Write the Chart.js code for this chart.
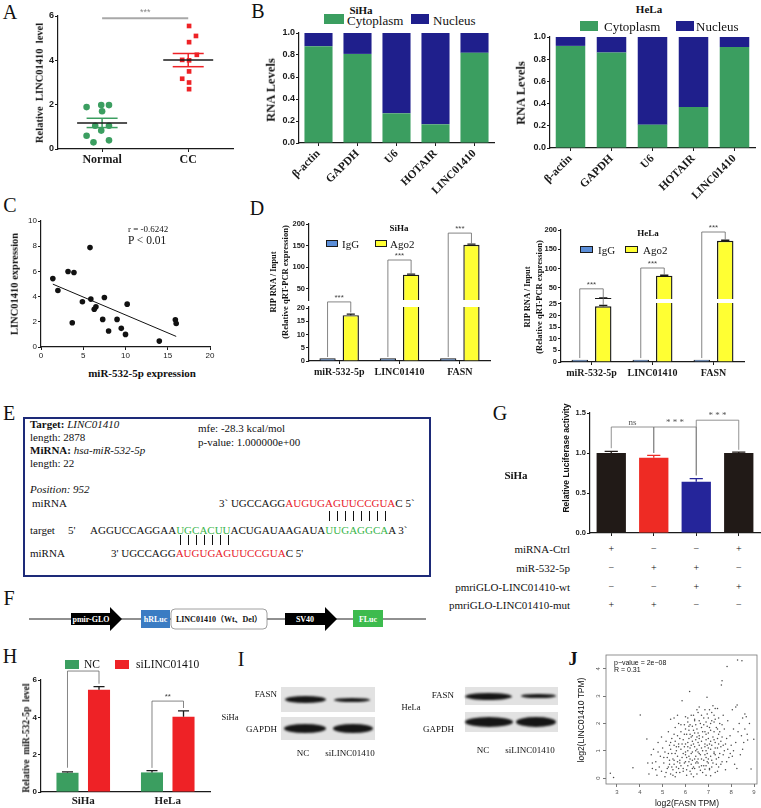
<!DOCTYPE html>
<html>
<head>
<meta charset="utf-8">
<script src="https://cdn.jsdelivr.net/npm/chart.js@4.4.1/dist/chart.umd.min.js"></script>
<style>
  html, body { margin: 0; padding: 0; }
  body { width: 761px; height: 808px; position: relative; overflow: hidden; background: #fff;
         font-family: "Liberation Serif", "Times New Roman", serif; color: #111; }
  .t { position: absolute; white-space: nowrap; line-height: 1; }
  canvas { position: absolute; }
  #ebox { position: absolute; left: 23px; top: 417px; width: 404px; height: 156px; border: 2px solid #1d2a78; }
  .blot { position: absolute; background: #e2e2e2; }
  .band { position: absolute; background: #161616; border-radius: 50%; filter: blur(1.2px); }
  .red { color: #e8202a; } .grn { color: #39b54a; }
</style>
</head>
<body>
<div id="ebox"></div>
<svg width="761" height="40" style="position:absolute;left:0;top:600px" font-family="Liberation Serif, serif" font-weight="bold" font-size="8">
  <line x1="29" y1="19" x2="426" y2="19" stroke="#222" stroke-width="1.2"/>
  <polygon points="71,13 110,13 110,7 122,19 110,31 110,25 71,25" fill="#000"/>
  <text x="91" y="22" fill="#fff" text-anchor="middle">pmir-GLO</text>
  <rect x="141" y="10" width="29" height="18" fill="#3b7cc3"/>
  <text x="155.5" y="22" fill="#fff" text-anchor="middle">hRLuc</text>
  <rect x="171" y="9" width="96" height="20" rx="4" fill="#fff" stroke="#888" stroke-width="0.8"/>
  <text x="219" y="22" fill="#111" text-anchor="middle" font-family="Liberation Serif, Noto Sans CJK SC, serif">LINC01410（Wt、Del）</text>
  <polygon points="285,13 325,13 325,7 337,19 325,31 325,25 285,25" fill="#000"/>
  <text x="305" y="22" fill="#fff" text-anchor="middle">SV40</text>
  <rect x="353" y="10" width="30" height="17" fill="#3dbb4e"/>
  <text x="368" y="21.5" fill="#fff" text-anchor="middle">FLuc</text>
</svg>
<script>
// ============================================================
// Multi-panel figure — Chart.js
// ============================================================

// ── data: A ──
const aGroups  = ['Normal', 'CC'];
const aNormalX = [0.82, 0.99, 1.08, 1.00, 0.92, 1.08, 0.82, 0.99, 0.90, 1.08];
const aNormalY = [1.89, 1.98, 1.98, 1.70, 1.05, 1.05, 0.60, 0.83, 0.30, 0.39];
const aCcX     = [2.01, 2.09, 2.01, 1.93, 2.10, 2.01, 2.01, 1.93, 2.01, 2.01];
const aCcY     = [5.55, 5.10, 4.82, 4.02, 4.25, 4.00, 3.50, 3.17, 3.00, 2.70];
const aTicksY  = [0, 2, 4, 6];

// ── data: B ──
const bGenes    = ['β-actin', 'GAPDH', 'U6', 'HOTAIR', 'LINC01410'];
const bSihaCyto = [0.88, 0.81, 0.27, 0.17, 0.82];
const bSihaNuc  = [0.12, 0.19, 0.73, 0.83, 0.18];
const bHelaCyto = [0.92, 0.86, 0.21, 0.37, 0.91];
const bHelaNuc  = [0.08, 0.14, 0.79, 0.63, 0.09];
const bTicksY   = [0, 0.2, 0.4, 0.6, 0.8, 1.0];

// ── data: C ──
const cMirX   = [1.4, 2.0, 3.2, 3.9, 5.8, 4.9, 3.7, 5.9, 6.3, 6.5, 7.5, 7.3, 8.0, 9.0, 9.5, 10.0, 10.2, 14.0, 15.9, 16.0];
const cLincY  = [5.43, 4.49, 5.99, 5.91, 7.89, 3.59, 1.93, 3.80, 3.00, 3.19, 3.93, 2.19, 1.27, 2.19, 1.48, 1.00, 3.40, 0.47, 2.16, 1.87];
const cFitX   = [1.4, 16.0];
const cFitY   = [4.99, 0.84];
const cTicksX = [0, 5, 10, 15, 20];
const cTicksY = [0, 2, 4, 6, 8, 10];

// ── data: D ──
const dCats        = ['miR-532-5p', 'LINC01410', 'FASN'];
const dSihaIgG     = [1.0, 1.0, 1.0];
const dSihaAgo2    = [17.3, 83, 152];
const dSihaAgo2Err = [0.4, 1.5, 1.5];
const dHelaIgG     = [1.0, 1.0, 1.0];
const dHelaAgo2    = [24, 82, 172];
const dHelaAgo2Err = [0.4, 1.0, 1.5];
const dSihaLowTicks = [0, 5, 10, 15, 20];
const dHelaLowTicks = [0, 5, 10, 15, 20, 25];
const dUpTicks      = [50, 100, 150, 200];

// ── data: G ──
const gValues = [1.00, 0.94, 0.64, 1.00];
const gErrors = [0.02, 0.03, 0.04, 0.01];
const gTicksY = [0, 0.5, 1.0, 1.5];
const gRows   = ['miRNA-Ctrl', 'miR-532-5p', 'pmriGLO-LINC01410-wt', 'pmriGLO-LINC01410-mut'];
const gTable  = [['+', '−', '−', '+'], ['−', '+', '+', '−'], ['−', '−', '+', '+'], ['+', '+', '−', '−']];

// ── data: H ──
const hCells   = ['SiHa', 'HeLa'];
const hNC      = [1.03, 1.05];
const hNCErr   = [0.05, 0.10];
const hSi      = [5.48, 4.03];
const hSiErr   = [0.17, 0.32];
const hTicksY  = [0, 2, 4, 6];

// ── data: J ── (log2 FASN TPM, log2 LINC01410 TPM)
const jPoints = [
  [2.85,0.02],[2.71,0.17],[4.4,0.15],[4.75,0.1],[5.1,0.05],[5.35,0.15],[5.55,0.05],[5.75,0.2],[6.05,0.1],[6.2,0.25],
  [6.5,0.15],[6.65,0.28],[6.9,0.1],[7.05,0.3],[7.3,0.2],[7.75,0.3],[5.9,0.25],[6.35,0.05],[7.1,0.08],[4.95,0.25],
  [3.7,0.38],[4.35,0.55],[4.55,0.35],[4.85,0.4],[5.05,0.55],[5.2,0.35],[5.3,0.5],[5.45,0.3],[5.6,0.4],[5.75,0.55],
  [5.9,0.35],[6.0,0.6],[6.1,0.45],[6.25,0.5],[6.35,0.4],[6.55,0.55],[6.7,0.45],[6.8,0.45],[6.95,0.6],[7.05,0.35],
  [7.2,0.55],[7.45,0.4],[7.6,0.6],[8.15,0.5],[8.87,0.33],[6.4,0.35],[6.85,0.32],[7.35,0.5],[5.5,0.5],
  [4.5,0.85],[4.7,0.6],[4.9,0.8],[5.2,0.75],[5.4,0.9],[5.5,0.65],[5.65,0.8],[5.85,0.75],[6.0,0.85],[6.15,0.8],
  [6.3,0.65],[6.45,0.8],[6.6,0.9],[6.7,0.7],[6.85,0.85],[7.1,0.8],[7.25,0.9],[7.35,0.7],[7.5,0.9],[7.9,0.75],
  [7.96,0.9],[8.4,0.85],[5.75,0.65],[6.2,0.7],[6.55,0.7],[7.0,0.7],[5.3,0.65],[6.9,0.75],
  [4.6,1.05],[5.0,1.1],[5.1,0.95],[5.35,1.05],[5.6,1.0],[5.8,1.05],[5.95,1.15],[6.0,0.95],[6.2,1.1],[6.3,0.95],
  [6.5,1.05],[6.6,1.2],[6.75,1.0],[6.85,1.15],[7.0,1.1],[7.15,1.2],[7.25,0.95],[7.4,1.1],[7.7,1.0],[8.0,1.2],
  [8.1,1.0],[8.5,1.05],[5.5,1.2],[6.4,1.15],[6.9,1.0],[7.55,1.15],[5.7,1.15],[6.1,1.0],
  [4.31,1.43],[4.8,1.3],[5.15,1.35],[5.3,1.2],[5.4,1.45],[5.7,1.25],[5.9,1.4],[6.1,1.3],[6.25,1.5],[6.35,1.25],
  [6.45,1.4],[6.6,1.45],[6.7,1.35],[6.85,1.25],[7.0,1.45],[7.2,1.5],[7.3,1.3],[7.55,1.35],[7.8,1.45],[8.55,1.3],
  [8.72,1.39],[8.99,1.42],[6.0,1.25],[6.55,1.3],[7.1,1.35],[5.55,1.35],
  [4.95,1.5],[5.25,1.7],[5.65,1.55],[5.8,1.7],[6.05,1.6],[6.15,1.75],[6.4,1.65],[6.5,1.8],[6.6,1.55],[6.75,1.7],
  [6.9,1.6],[7.1,1.75],[7.45,1.6],[7.7,1.8],[8.3,1.7],[8.45,1.55],[8.6,1.8],[8.7,1.6],[5.5,1.6],[6.3,1.55],[7.0,1.65],
  [5.55,1.85],[5.7,2.0],[5.95,1.95],[6.1,2.05],[6.3,1.9],[6.4,2.1],[6.65,2.0],[6.95,1.9],[7.15,2.1],[7.35,1.85],
  [7.5,2.0],[7.85,2.1],[8.35,2.0],[8.8,2.0],[6.2,1.95],[6.8,1.95],[7.25,2.05],
  [4.02,2.31],[5.35,2.15],[5.5,2.2],[6.0,2.25],[6.25,2.3],[6.55,2.4],[6.8,2.2],[7.05,2.5],[7.25,2.3],[7.65,2.3],
  [8.5,2.2],[8.66,2.25],[6.4,2.15],[7.0,2.2],[8.6,2.35],
  [5.85,2.83],[6.18,3.17],[6.94,2.96],[7.4,2.55],[8.05,2.5],[8.2,2.6],[8.26,2.68],[7.57,3.41],[7.6,3.57],[7.82,4.09],
  [8.28,4.33],[8.47,4.3],[6.6,2.6],[7.2,2.65],
  [5.6,0.2],[5.8,0.45],[5.95,0.55],[6.05,0.3],[6.15,0.6],[6.25,0.15],[6.3,0.35],[6.45,0.55],[6.6,0.4],[6.75,0.2],
  [6.9,0.45],[7.0,0.55],[7.15,0.4],[7.4,0.25],[7.55,0.5],[5.4,0.4],[5.65,0.6],[6.05,0.75],[6.25,0.9],[6.4,0.7],
  [6.5,0.6],[6.65,0.85],[6.8,0.65],[6.95,0.9],[7.15,0.65],[7.3,0.85],[7.45,0.75],[7.65,0.85],[5.55,0.9],[5.9,0.9],
  [6.1,1.15],[6.25,1.2],[6.45,1.0],[6.55,0.95],[6.7,1.1],[6.95,1.2],[7.1,1.05],[7.3,1.1],[7.45,1.25],[7.65,1.2],
  [5.85,1.25],[6.15,1.45],[6.3,1.35],[6.5,1.5],[6.75,1.5],[6.9,1.4],[7.05,1.25],[7.25,1.4],[7.4,1.45],[7.6,1.5],
  [5.75,1.45],[5.95,1.6],[6.2,1.6],[6.35,1.75],[6.55,1.65],[6.7,1.85],[6.85,1.7],[7.05,1.85],[7.25,1.7],[7.4,1.8],
  [6.0,1.8],[6.15,1.9],[6.45,1.95],[6.6,2.1],[6.9,2.05],[7.1,2.0],[7.3,2.15],[7.5,1.7],[7.6,1.95],[5.8,1.95],
  [6.1,2.2],[6.35,2.3],[6.7,2.3],[6.95,2.35],[7.15,2.4],[7.45,2.2],[5.65,2.3],[6.5,2.5],[7.3,2.55],[6.85,2.5],
  [4.55,0.55],[4.7,0.3],[4.8,0.95],[5.05,0.75],[5.15,0.2],[5.25,0.9],[5.45,0.1],[5.45,0.7],[5.6,1.15],[5.35,1.3],
  [5.25,0.4],[5.7,0.35],[7.8,0.6],[7.85,1.05],[8.05,0.8],[8.2,1.3],[8.25,0.35],[7.95,1.55],[8.1,1.8],[7.75,1.25]
];
const jTicksX = [3, 4, 5, 6, 7, 8, 9];
const jTicksY = [0, 1, 2, 3, 4];

// ── significance marks (annotation heights in data units) ──
const aSig = [{ a: 1, b: 2, top: 5.9, text: '***' }];
const dSihaSig = [
  { a: [0, 0], b: [1, 0], top: [22.3, 0], legA: [1.5, 0], legB: [18.3, 0], text: '***' },
  { a: [0, 1], b: [1, 1], top: [116.9, 1], legA: [1.5, 0], legB: [85.5, 1], text: '***' },
  { a: [0, 2], b: [1, 2], top: [179, 1], legA: [1.5, 0], legB: [155, 1], text: '***' }
];
const dHelaSig = [
  { a: [0, 0], b: [1, 0], top: [31.5, 0], legA: [1.7, 0], legB: [24.6, 0], text: '***' },
  { a: [0, 1], b: [1, 1], top: [101.7, 1], legA: [1.7, 0], legB: [84, 1], text: '***' },
  { a: [0, 2], b: [1, 2], top: [194.8, 1], legA: [1.7, 0], legB: [175, 1], text: '***' }
];
const gSig = [
  { a: [0, 0], b: [0, 1], top: 1.325, legA: 1.06, legB: 1.0, text: 'ns' },
  { a: [0, 1], b: [0, 2], top: 1.325, legA: 1.0, legB: 0.72, text: '* * *' },
  { a: [0, 2], b: [0, 3], top: 1.41, legA: 0.72, legB: 1.04, text: '* * *' }
];
const hSig = [
  { a: [0, 0], b: [1, 0], top: 6.48, legA: 1.3, legB: 5.8, text: '***' },
  { a: [0, 1], b: [1, 1], top: 4.87, legA: 1.29, legB: 4.5, text: '**' }
];

// ── styles ──
const SANS  = '"Liberation Sans", Arial, sans-serif';
const SERIF = '"Liberation Serif", "Times New Roman", serif';
const INK   = '#1a1a1a';
const GREEN = '#3b9e60';
const NAVY  = '#1f1f8c';
const RED   = '#ee2226';

// ── helpers ──
function put(x, y, html, css, align) {
  const d = document.createElement('div');
  d.className = 't';
  d.innerHTML = html;
  const tx = align === 'l' ? '0' : align === 'r' ? '-100%' : '-50%';
  d.style.cssText = `left:${x}px;top:${y}px;transform:translate(${tx},-50%);` + (css || '');
  document.body.appendChild(d);
}
function vput(x, y, html, css) {
  const d = document.createElement('div');
  d.className = 't';
  d.innerHTML = html;
  d.style.cssText = `left:${x}px;top:${y}px;transform:translate(-50%,-50%) rotate(-90deg);` + (css || '');
  document.body.appendChild(d);
}
function box(x, y, w, h, color, border) {
  const d = document.createElement('div');
  d.style.cssText = `position:absolute;left:${x}px;top:${y}px;width:${w}px;height:${h}px;background:${color};` +
    (border ? `box-sizing:border-box;border:1px solid ${border};` : '');
  document.body.appendChild(d);
}
function f(size, weight, fam) { return { size, weight: weight || 'normal', family: fam || SANS }; }

function lin(min, max, ticks, font, fmt, tl) {
  return {
    type: 'linear', min, max,
    afterBuildTicks: s => { s.ticks = ticks.map(v => ({ value: v })); },
    ticks: { font, color: INK, padding: 1, autoSkip: false, callback: fmt || (v => v) },
    grid: { drawOnChartArea: false, color: INK, tickLength: tl || 3, tickWidth: 1 },
    border: { color: INK, width: 1.2 }
  };
}
function cat(font, extra) {
  return {
    type: 'category',
    ticks: Object.assign({ font, color: INK, padding: 2, autoSkip: false, maxRotation: 0 }, extra || {}),
    grid: { drawOnChartArea: false, color: INK, tickLength: 3, offset: false },
    border: { color: INK, width: 1.2 }
  };
}

// box = [left, top, width, height] of the canvas; area = plot area in page px
function makeChart(cbox, area, xh, config) {
  const [bx, by, bw, bh] = cbox;
  const cv = document.createElement('canvas');
  cv.width = bw; cv.height = bh;
  cv.style.cssText = `left:${bx}px;top:${by}px;width:${bw}px;height:${bh}px`;
  document.body.appendChild(cv);
  const yw = area[0] - bx;
  const o = config.options;
  o.responsive = false; o.animation = false; o.devicePixelRatio = 1;
  o.layout = { padding: { left: 0, top: area[1] - by, right: bx + bw - area[2], bottom: by + bh - area[3] - xh } };
  o.plugins = Object.assign({ legend: { display: false }, tooltip: { enabled: false } }, o.plugins || {});
  o.scales.x.afterFit = s => { s.height = xh; s.paddingLeft = 0; s.paddingRight = 0; s.paddingTop = 0; s.paddingBottom = 0; };
  o.scales.y.afterFit = s => { s.width = yw; s.paddingTop = 0; s.paddingBottom = 0; s.paddingLeft = 0; s.paddingRight = 0; };
  return new Chart(cv, config);
}

const errPlugin = {
  id: 'errbars',
  afterDatasetsDraw(chart) {
    const ctx = chart.ctx, ys = chart.scales.y, a = chart.chartArea;
    ctx.save();
    ctx.beginPath(); ctx.rect(a.left - 2, a.top, a.width + 4, a.height); ctx.clip();
    chart.data.datasets.forEach((ds, di) => {
      if (!ds.errors) return;
      chart.getDatasetMeta(di).data.forEach((bar, i) => {
        const v = ds.data[i], e = ds.errors[i];
        if (!e) return;
        const col = Array.isArray(ds.errColor) ? ds.errColor[i] : (ds.errColor || INK);
        const y0 = ys.getPixelForValue(v), y1 = ys.getPixelForValue(v + e);
        const hw = bar.width * (ds.capRatio || 0.5) / 2;
        ctx.strokeStyle = col; ctx.lineWidth = 1.3;
        ctx.beginPath(); ctx.moveTo(bar.x, y0); ctx.lineTo(bar.x, y1);
        ctx.moveTo(bar.x - hw, y1); ctx.lineTo(bar.x + hw, y1); ctx.stroke();
      });
    });
    ctx.restore();
  }
};

function sigPlugin(items, st) {
  return {
    id: 'sig',
    afterDraw(chart) {
      const ctx = chart.ctx;
      const xp = p => Array.isArray(p) ? chart.getDatasetMeta(p[0]).data[p[1]].x : chart.scales.x.getPixelForValue(p);
      const yp = st.yPix || ((ch, v) => ch.scales.y.getPixelForValue(v));
      ctx.save();
      ctx.strokeStyle = st.line; ctx.lineWidth = st.width; ctx.fillStyle = st.text;
      ctx.font = st.font; ctx.textAlign = 'center'; ctx.textBaseline = 'alphabetic';
      items.forEach(it => {
        const xa = xp(it.a), xb = xp(it.b), yt = yp(chart, it.top);
        ctx.beginPath();
        if (it.legA !== undefined) { ctx.moveTo(xa, yp(chart, it.legA)); ctx.lineTo(xa, yt); } else ctx.moveTo(xa, yt);
        ctx.lineTo(xb, yt);
        if (it.legB !== undefined) ctx.lineTo(xb, yp(chart, it.legB));
        ctx.stroke();
        ctx.fillText(it.text, (xa + xb) / 2, yt - st.gap);
      });
      ctx.restore();
    }
  };
}

const mean = a => a.reduce((s, v) => s + v, 0) / a.length;
const sem  = a => { const m = mean(a); return Math.sqrt(a.reduce((s, v) => s + (v - m) ** 2, 0) / (a.length - 1) / a.length); };

// ── panel letters ──
[['A', 10, 12], ['B', 258, 11], ['C', 10, 205], ['D', 257, 208], ['E', 9, 413], ['F', 9, 598],
 ['G', 500, 413], ['H', 10, 656], ['I', 241, 659]].forEach(([t, x, y]) => put(x, y, t, 'font-size:20px;'));
put(573, 659, 'J', 'font-size:18px;font-weight:bold;');

// ── A. dot plot ──
(function () {
  const meanSem = {
    id: 'meansem',
    afterDatasetsDraw(chart) {
      const { ctx, scales: { x, y } } = chart;
      const seg = (x1, y1, x2, y2) => { ctx.beginPath(); ctx.moveTo(x.getPixelForValue(x1), y.getPixelForValue(y1)); ctx.lineTo(x.getPixelForValue(x2), y.getPixelForValue(y2)); ctx.stroke(); };
      [[aNormalY, GREEN], [aCcY, RED]].forEach(([ys, col], g) => {
        const cx = g + 1, m = mean(ys), s = sem(ys);
        ctx.save();
        ctx.lineWidth = 1.5;
        ctx.strokeStyle = col;
        seg(cx, m - s, cx, m + s);
        seg(cx - 0.18, m + s, cx + 0.18, m + s);
        seg(cx - 0.18, m - s, cx + 0.18, m - s);
        ctx.strokeStyle = INK;
        seg(cx - 0.29, m, cx + 0.29, m);
        ctx.restore();
      });
    }
  };
  makeChart([20, 8, 222, 162], [58, 16, 233, 149], 21, {
    type: 'scatter',
    data: { datasets: [
      { data: aNormalX.map((x, i) => ({ x, y: aNormalY[i] })), backgroundColor: GREEN, borderWidth: 0, pointRadius: 3.3 },
      { data: aCcX.map((x, i) => ({ x, y: aCcY[i] })), backgroundColor: RED, borderWidth: 0, pointRadius: 3.3, pointStyle: 'rect' }
    ] },
    options: { scales: {
      x: lin(0.488, 2.52, [1, 2], f(12, 'bold', SERIF), v => aGroups[v - 1]),
      y: lin(0, 6, aTicksY, f(9, 'bold'))
    } },
    plugins: [meanSem, sigPlugin(aSig, { line: '#a8a8a8', width: 2, text: '#888', font: '9px ' + SANS, gap: 3 })]
  });
  vput(40, 83, 'Relative&nbsp; LINC01410&nbsp; level', 'font-size:10.5px;font-weight:bold;');
})();

// ── B. subcellular fractions ──
function rnaChart(cbox, area, cyto, nuc) {
  return makeChart(cbox, area, cbox[1] + cbox[3] - area[3], {
    type: 'bar',
    data: { labels: bGenes, datasets: [
      { data: cyto, backgroundColor: GREEN, categoryPercentage: 1, barPercentage: 0.72 },
      { data: nuc, backgroundColor: NAVY, categoryPercentage: 1, barPercentage: 0.72 }
    ] },
    options: { scales: {
      x: Object.assign(cat(f(11.5, 'bold', SERIF), { minRotation: 45, maxRotation: 45, padding: 1 }), { stacked: true }),
      y: Object.assign(lin(0, 1, bTicksY, f(9, 'bold'), v => v.toFixed(1)), { stacked: true })
    } }
  });
}
rnaChart([275, 28, 225, 185], [299, 33, 494, 143], bSihaCyto, bSihaNuc);
rnaChart([522, 30, 239, 183], [550, 37, 755, 148], bHelaCyto, bHelaNuc);
put(361, 10, 'SiHa', 'font-size:11px;font-weight:bold;');
put(649, 9, 'HeLa', 'font-size:11px;font-weight:bold;');
box(324, 14, 20, 10, GREEN); put(347, 19.5, 'Cytoplasm', 'font-size:13px;', 'l');
box(411, 14, 18, 10, NAVY);  put(433, 19.5, 'Nucleus', 'font-size:13px;', 'l');
box(580, 21, 18, 10, GREEN); put(604, 26, 'Cytoplasm', 'font-size:13px;', 'l');
box(676, 21, 18, 10, NAVY);  put(696, 26, 'Nucleus', 'font-size:13px;', 'l');
vput(271, 90, 'RNA Levels', 'font-size:12.5px;font-weight:bold;');
vput(521, 93, 'RNA Levels', 'font-size:12.5px;font-weight:bold;');

// ── C. correlation ──
makeChart([20, 214, 195, 150], [41, 221, 210, 347], 17, {
  type: 'scatter',
  data: { datasets: [
    { data: cMirX.map((x, i) => ({ x, y: cLincY[i] })), backgroundColor: '#111', borderWidth: 0, pointRadius: 2.8 },
    { type: 'line', data: cFitX.map((x, i) => ({ x, y: cFitY[i] })), borderColor: '#111', borderWidth: 1, pointRadius: 0, fill: false }
  ] },
  options: { scales: { x: lin(0, 20, cTicksX, f(8)), y: lin(0, 10, cTicksY, f(8)) } }
});
put(128, 229, 'r = -0.6242', 'font-size:9px;', 'l');
put(128, 241, 'P &lt; 0.01', 'font-size:11.5px;', 'l');
vput(15, 284, 'LINC01410 expression', 'font-size:10.5px;font-weight:bold;');
put(142, 373, 'miR-532-5p expression', 'font-size:11px;font-weight:bold;');

// ── D. RIP with broken axis ──
function ripPanel(cfg) {
  const sets = () => [
    { data: cfg.igg, backgroundColor: '#5b8ed8', borderColor: INK, borderWidth: 1.2, clip: 0, categoryPercentage: 0.77, barPercentage: 0.7 },
    { data: cfg.ago, errors: cfg.agoErr, backgroundColor: '#ffff33', borderColor: INK, borderWidth: 1.4, clip: 0, categoryPercentage: 0.77, barPercentage: 0.7 }
  ];
  const up = makeChart(cfg.upBox, cfg.upArea, 0, {
    type: 'bar',
    data: { labels: dCats, datasets: sets() },
    options: { scales: {
      x: Object.assign(cat(f(9)), { display: false }),
      y: lin(cfg.upMin, cfg.upMax, dUpTicks, f(7.5, 'bold'))
    } },
    plugins: [errPlugin]
  });
  const yPix = (ch, [v, seg]) => seg
    ? up.scales.y.getPixelForValue(v) + cfg.upBox[1] - cfg.loBox[1]
    : ch.scales.y.getPixelForValue(v);
  makeChart(cfg.loBox, cfg.loArea, cfg.loBox[1] + cfg.loBox[3] - cfg.loArea[3], {
    type: 'bar',
    data: { labels: dCats, datasets: sets() },
    options: { scales: {
      x: cat(f(10, 'bold', SERIF)),
      y: lin(0, cfg.loMax, cfg.loTicks, f(7.5, 'bold'))
    } },
    plugins: [errPlugin, sigPlugin(cfg.sig, { line: '#666', width: 0.8, text: '#444', font: '8px ' + SANS, gap: 2, yPix })]
  });
}
ripPanel({ upBox: [262, 216, 233, 86], upArea: [309, 224, 490, 300], upMin: 24.6, upMax: 200,
           loBox: [262, 216, 233, 166], loArea: [309, 307, 490, 361], loMax: 20.38, loTicks: dSihaLowTicks,
           igg: dSihaIgG, ago: dSihaAgo2, agoErr: dSihaAgo2Err, sig: dSihaSig });
ripPanel({ upBox: [515, 222, 233, 79], upArea: [561, 230, 744, 299], upMin: 21.55, upMax: 200,
           loBox: [515, 222, 233, 160], loArea: [561, 303, 744, 362], loMax: 25.4, loTicks: dHelaLowTicks,
           igg: dHelaIgG, ago: dHelaAgo2, agoErr: dHelaAgo2Err, sig: dHelaSig });
put(399, 228, 'SiHa', 'font-size:9px;font-weight:bold;');
put(648, 233, 'HeLa', 'font-size:9px;font-weight:bold;');
box(326, 240, 12, 7, '#5b8ed8', INK);  put(342, 244, 'IgG', 'font-size:11px;', 'l');
box(375, 240, 12, 7, '#ffff33', INK);  put(390, 244, 'Ago2', 'font-size:11px;', 'l');
box(580, 246, 13, 7, '#5b8ed8', INK);  put(598, 250, 'IgG', 'font-size:11px;', 'l');
box(625, 246, 13, 7, '#ffff33', INK);  put(643, 250, 'Ago2', 'font-size:11px;', 'l');
[[273, 282], [527, 297]].forEach(([x, y]) => {
  vput(x, y, 'RIP RNA / Input', 'font-size:8.5px;font-weight:bold;');
  vput(x + 12, y, '(Relative qRT-PCR expression)', 'font-size:8.5px;font-weight:bold;');
});

// ── E. binding site box ──
put(30, 424, '<b>Target:</b> <i>LINC01410</i>', 'font-size:11px;', 'l');
put(30, 437, 'length: 2878', 'font-size:11px;', 'l');
put(30, 450, '<b>MiRNA:</b> <i>hsa-miR-532-5p</i>', 'font-size:11px;', 'l');
put(30, 463, 'length: 22', 'font-size:11px;', 'l');
put(198, 428, 'mfe: -28.3 kcal/mol', 'font-size:11px;', 'l');
put(198, 442, 'p-value: 1.000000e+00', 'font-size:11px;', 'l');
put(30, 489, '<i>Position: 952</i>', 'font-size:11px;', 'l');
put(32, 503, 'miRNA', 'font-size:11px;', 'l');
put(219, 503, '3` UGCCAGG<span class="red">AUGUGAGUUCCGUA</span>C 5`', 'font-size:11px;', 'l');
put(30, 530, 'target', 'font-size:11px;', 'l');
put(68, 530, '5\'', 'font-size:11px;', 'l');
put(90, 530, 'AGGUCCAGGAA<span class="grn">UGCACUU</span>ACUGAUAAGAUA<span class="grn">UUGAGGCA</span>A 3`', 'font-size:11px;', 'l');
put(30, 553, 'miRNA', 'font-size:11px;', 'l');
put(111, 553, '3\' UGCCAGG<span class="red">AUGUGAGUUCCGUA</span>C 5\'', 'font-size:11px;', 'l');
for (let i = 0; i < 8; i++) box(329 + i * 8, 511, 1, 10, '#111');
for (let i = 0; i < 7; i++) box(180 + i * 8, 535, 1, 10, '#111');

// ── G. luciferase ──
(function () {
  const gBox = [548, 405, 213, 135];
  const ch = makeChart(gBox, [590, 413, 760, 533], 7, {
    type: 'bar',
    data: { labels: gValues.map((_, i) => String(i + 1)), datasets: [{
      data: gValues, errors: gErrors,
      backgroundColor: ['#211a17', '#ee2b24', '#25259a', '#211a17'],
      errColor: ['#211a17', '#ee2b24', '#25259a', '#211a17'],
      categoryPercentage: 1, barPercentage: 0.69, capRatio: 0.45
    }] },
    options: { scales: {
      x: Object.assign(cat(f(8)), { ticks: { display: false } }),
      y: lin(0, 1.5, gTicksY, f(7.5, 'bold'), v => v.toFixed(1))
    } },
    plugins: [errPlugin, sigPlugin(gSig, { line: '#777', width: 0.8, text: '#555', font: '9px ' + SERIF, gap: 2 })]
  });
  const bars = ch.getDatasetMeta(0).data;
  const rowY = [549, 568, 587, 605];
  gRows.forEach((r, ri) => {
    put(570, rowY[ri], r, 'font-size:11px;', 'r');
    gTable[ri].forEach((s, ci) => put(gBox[0] + bars[ci].x, rowY[ri], s, 'font-size:10px;'));
  });
  vput(566, 458, 'Relative Luciferase activity', `font-size:8.5px;font-weight:bold;font-family:${SANS};`);
  put(516, 475, 'SiHa', 'font-size:11px;font-weight:bold;');
})();

// ── H. miR-532-5p after knockdown ──
makeChart([16, 670, 204, 138], [41, 680, 210, 792], 16, {
  type: 'bar',
  data: { labels: hCells, datasets: [
    { data: hNC, errors: hNCErr, backgroundColor: GREEN, categoryPercentage: 0.746, barPercentage: 0.7 },
    { data: hSi, errors: hSiErr, backgroundColor: RED, categoryPercentage: 0.746, barPercentage: 0.7 }
  ] },
  options: { scales: {
    x: Object.assign(cat(f(11, 'bold', SERIF), { padding: 3 }), { grid: { drawOnChartArea: false, drawTicks: false } }),
    y: lin(0, 6, hTicksY, f(8, 'bold'))
  } },
  plugins: [errPlugin, sigPlugin(hSig, { line: '#666', width: 0.8, text: '#444', font: '8px ' + SANS, gap: 2 })]
});
box(65, 660, 14, 9, GREEN); put(84, 665, 'NC', 'font-size:11.5px;', 'l');
box(115, 660, 14, 9, RED);  put(136, 665, 'siLINC01410', 'font-size:11.5px;', 'l');
vput(27, 738, 'Relative&nbsp; miR-532-5p&nbsp; level', 'font-size:9.5px;font-weight:bold;');

// ── I. western blots ──
function blot(x, y, w, h, bands) {
  const d = document.createElement('div');
  d.className = 'blot';
  d.style.cssText = `left:${x}px;top:${y}px;width:${w}px;height:${h}px;`;
  document.body.appendChild(d);
  bands.forEach(([bx, bw, bh]) => {
    const b = document.createElement('div');
    b.className = 'band';
    b.style.cssText = `left:${bx - x}px;top:${(h - bh) / 2}px;width:${bw}px;height:${bh}px;`;
    d.appendChild(b);
  });
}
blot(281, 687, 94, 25, [[285, 41, 7], [334, 36, 4]]);
blot(281, 717, 94, 23, [[284, 42, 9], [333, 40, 9]]);
blot(465, 687, 93, 18, [[465, 47, 7], [521, 35, 4.5]]);
blot(465, 712, 93, 20, [[465, 48, 10], [516, 40, 10]]);
put(277, 694, 'FASN', 'font-size:9px;', 'r');
put(277, 729, 'GAPDH', 'font-size:9px;', 'r');
put(230, 717, 'SiHa', 'font-size:8.5px;');
put(303, 753, 'NC', 'font-size:9px;');
put(350, 753, 'siLINC01410', 'font-size:9px;');
put(454, 695, 'FASN', 'font-size:9px;', 'r');
put(454, 729, 'GAPDH', 'font-size:9px;', 'r');
put(411, 707, 'HeLa', 'font-size:8.5px;');
put(483, 750, 'NC', 'font-size:9px;');
put(530, 750, 'siLINC01410', 'font-size:9px;');

// ── J. GEPIA correlation ──
(function () {
  const frame = {
    id: 'frame',
    afterDraw(chart) {
      const { ctx, chartArea: a, scales: { y } } = chart;
      ctx.save();
      ctx.strokeStyle = '#777'; ctx.lineWidth = 0.8;
      ctx.strokeRect(a.left, a.top, a.width, a.height);
      ctx.fillStyle = '#555'; ctx.font = '6px ' + SANS; ctx.textAlign = 'center'; ctx.textBaseline = 'middle';
      y.ticks.forEach(t => {
        ctx.save();
        ctx.translate(a.left - 8, y.getPixelForValue(t.value));
        ctx.rotate(-Math.PI / 2);
        ctx.fillText(String(t.value), 0, 0);
        ctx.restore();
      });
      ctx.restore();
    }
  };
  const jx = lin(2.52, 9.13, jTicksX, f(6));
  jx.ticks.color = '#555'; jx.ticks.padding = 2; jx.grid.color = '#777'; jx.border = { display: false };
  const jy = lin(-0.22, 4.51, jTicksY, f(6));
  jy.ticks.display = false; jy.grid.color = '#777'; jy.border = { display: false };
  makeChart([575, 648, 186, 160], [606, 655, 757, 784], 24, {
    type: 'scatter',
    data: { datasets: [{ data: jPoints.map(([x, y]) => ({ x, y })), backgroundColor: '#4a4a4a', borderWidth: 0, pointRadius: 0.75 }] },
    options: { scales: { x: jx, y: jy } },
    plugins: [frame]
  });
  put(614, 662, 'p−value = 2e−08', `font-size:7px;font-family:${SANS};`, 'l');
  put(614, 669, 'R = 0.31', `font-size:7px;font-family:${SANS};`, 'l');
  put(687, 803, 'log2(FASN TPM)', `font-size:8.5px;font-family:${SANS};`);
  vput(581, 720, 'log2(LINC01410 TPM)', `font-size:8.5px;font-family:${SANS};`);
})();
</script>
</body>
</html>
